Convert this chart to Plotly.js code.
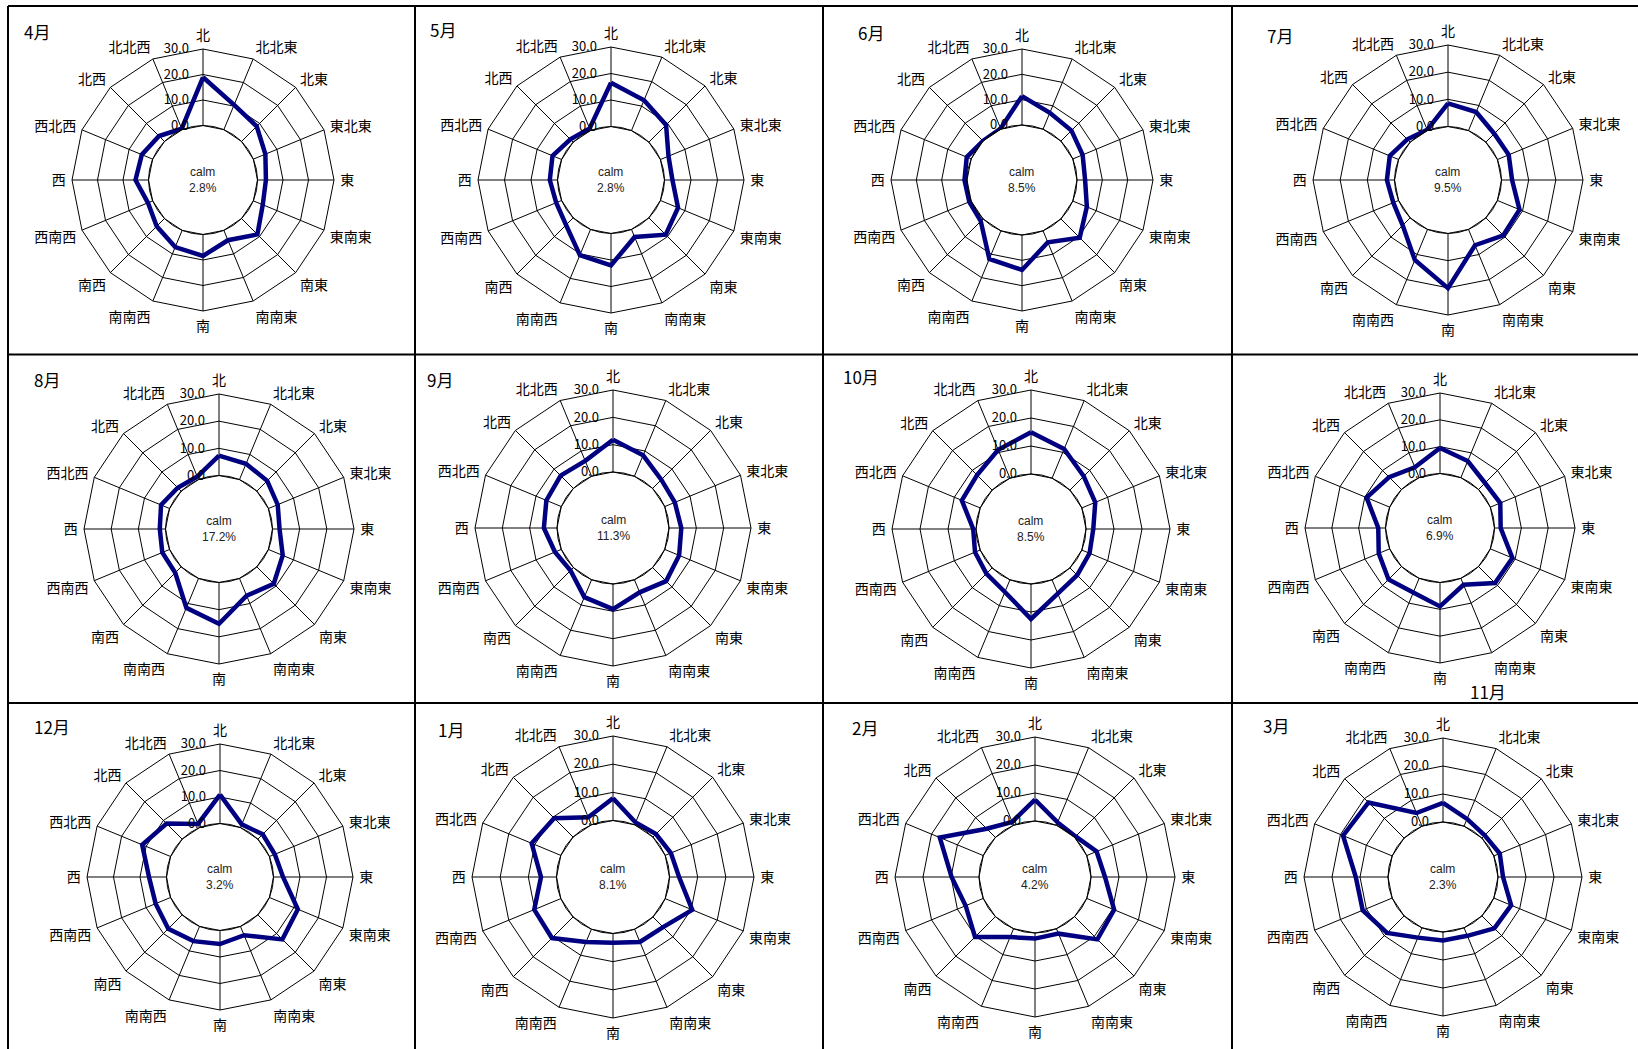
<!DOCTYPE html>
<html>
<head>
<meta charset="utf-8">
<script src="https://cdn.plot.ly/plotly-3.0.1.min.js"></script>
<style>html,body{margin:0;padding:0;background:#fff;}#chart{width:1638px;height:1049px;}</style>
</head>
<body>
<div id="chart"></div>
<script>
// ---- data ----
const directions = ['北','北北東','北東','東北東','東','東南東','南東','南南東','南','南南西','南西','西南西','西','西北西','北西','北北西'];
const months = ['4月','5月','6月','7月','8月','9月','10月','11月','12月','1月','2月','3月'];
const calm = [2.8, 2.8, 8.5, 9.5, 17.2, 11.3, 8.5, 6.9, 3.2, 8.1, 4.2, 2.3];
const radialTicks = [0, 10, 20, 30];

const apr = [18.9, 10.5, 8.4, 5.1, 3.3, 4.0, 8.8, 4.2, 8.4, 7.1, 4.3, 2.0, 5.1, 4.6, 3.0, 0.4];
const may = [16.5, 12.4, 9.2, 3.3, 3.0, 7.2, 9.0, 3.1, 12.0, 10.5, 3.8, 2.2, 2.9, 3.7, 1.5, 0.9];
const jun = [11.4, 7.0, 5.9, 4.2, 3.2, 6.0, 10.5, 4.9, 13.8, 12.0, 1.3, 0.8, 1.0, 1.9, 0.1, 0.3];
const jul = [8.5, 7.4, 4.4, 4.5, 3.9, 8.8, 9.1, 6.3, 20.1, 12.2, 3.9, 2.1, 2.8, 3.5, 1.5, 0.3];
const aug = [7.3, 6.3, 5.4, 3.7, 2.6, 5.7, 8.8, 6.9, 15.2, 11.7, 3.1, 2.9, 2.1, 3.4, 1.8, 1.2];
const sep = [11.8, 8.3, 4.5, 4.0, 4.5, 5.7, 7.0, 5.0, 9.2, 6.9, 1.5, 2.5, 4.8, 5.9, 6.6, 6.1];
const oct = [14.9, 11.3, 7.0, 5.2, 2.6, 3.0, 3.7, 5.3, 12.5, 4.7, 2.9, 2.0, 1.0, 7.1, 7.6, 11.0];
const nov = [9.5, 6.7, 3.4, 4.0, 2.3, 8.9, 8.7, 2.6, 8.9, 5.7, 6.8, 4.4, 2.7, 9.3, 6.5, 4.2];
const dec = [10.9, 1.3, 2.6, 2.2, 3.6, 11.6, 13.1, 3.6, 5.1, 6.0, 7.4, 6.1, 6.6, 11.6, 8.3, 1.5];
const jan = [7.9, 0.9, 1.5, 2.2, 3.4, 10.4, 5.1, 4.9, 3.3, 4.9, 10.6, 10.2, 5.5, 11.2, 9.5, 2.9];
const feb = [7.6, 1.1, 0.5, 3.8, 5.0, 10.6, 11.5, 1.9, 2.0, 3.2, 10.3, 6.8, 9.8, 16.8, 4.4, 1.3];
const mar = [6.8, 2.8, 1.4, 2.3, 1.8, 6.7, 6.3, 3.1, 3.0, 3.8, 8.6, 11.4, 11.5, 19.0, 18.0, 5.1];
const series = [apr, may, jun, jul, aug, sep, oct, nov, dec, jan, feb, mar];

// ---- layout geometry (pixels) ----
const W = 1638, H = 1049;
const panels = [
  {cx:203,  cy:180, R:131, r0:54.5, tx:37,   ty:31},
  {cx:611,  cy:180, R:133, r0:53.5, tx:443,  ty:30},
  {cx:1022, cy:180, R:131, r0:55,   tx:871,  ty:33},
  {cx:1448, cy:180, R:135, r0:53.5, tx:1280, ty:35},
  {cx:219,  cy:529, R:135, r0:53.5, tx:47,   ty:379},
  {cx:613,  cy:528, R:138, r0:56,   tx:440,  ty:379},
  {cx:1031, cy:529, R:139, r0:55,   tx:861,  ty:377},
  {cx:1440, cy:528, R:135, r0:54.5, tx:1488, ty:691},
  {cx:220,  cy:877, R:133, r0:53.5, tx:52,   ty:726},
  {cx:613,  cy:877, R:141, r0:56.5, tx:451,  ty:729},
  {cx:1035, cy:877, R:140, r0:56,   tx:865,  ty:727},
  {cx:1443, cy:877, R:139, r0:55,   tx:1276, ty:725}
];

const px = x => x / W;
const py = y => 1 - y / H;

const data = [];
const layout = {
  width: W, height: H,
  margin: {l:0, r:0, t:0, b:0},
  paper_bgcolor: '#fff',
  showlegend: false,
  annotations: [],
  shapes: []
};

series.forEach((vals, i) => {
  const p = panels[i];
  const key = i === 0 ? 'polar' : 'polar' + (i + 1);
  data.push({
    type: 'scatterpolar',
    subplot: key,
    mode: 'lines',
    r: vals.concat([vals[0]]),
    theta: directions.concat([directions[0]]),
    line: {color: '#000080', width: 4.5},
    hoverinfo: 'skip'
  });
  layout[key] = {
    domain: {x: [px(p.cx - p.R), px(p.cx + p.R)], y: [py(p.cy + p.R), py(p.cy - p.R)]},
    hole: p.r0 / p.R,
    gridshape: 'linear',
    bgcolor: '#fff',
    radialaxis: {
      range: [0, 30], tickvals: radialTicks, tickformat: '.1f',
      angle: 90, side: 'counterclockwise', tickangle: 90,
      showline: false, ticks: 'outside', ticklen: 9, tickcolor: 'rgba(0,0,0,0)',
      gridcolor: '#000', gridwidth: 1,
      tickfont: {family: 'Noto Sans CJK JP', size: 13, color: '#000'}
    },
    angularaxis: {
      type: 'category', categoryarray: directions,
      direction: 'clockwise', rotation: 90,
      ticks: 'outside', ticklen: 3, tickcolor: 'rgba(0,0,0,0)',
      showline: true, linecolor: '#000', linewidth: 1,
      gridcolor: '#000', gridwidth: 1,
      tickfont: {family: 'Noto Sans CJK JP', size: 14, color: '#000'}
    }
  };
  // calm circle
  layout.shapes.push({
    type: 'circle', xref: 'paper', yref: 'paper',
    xsizemode: 'pixel', ysizemode: 'pixel',
    xanchor: px(p.cx), yanchor: py(p.cy),
    x0: -p.r0, x1: p.r0, y0: -p.r0, y1: p.r0,
    line: {color: '#000', width: 1}, layer: 'above'
  });
  layout.annotations.push({
    xref: 'paper', yref: 'paper', x: px(p.cx), y: py(p.cy),
    text: 'calm<br>' + calm[i].toFixed(1) + '%', showarrow: false,
    font: {family: 'Liberation Sans, Arial', size: 12, color: '#222'},
    xanchor: 'center', yanchor: 'middle'
  });
  layout.annotations.push({
    xref: 'paper', yref: 'paper', x: px(p.tx), y: py(p.ty),
    text: months[i], showarrow: false,
    font: {family: 'Noto Sans CJK JP', size: 17, color: '#000'},
    xanchor: 'center', yanchor: 'middle'
  });
});

// cell borders
const vLines = [8, 415, 823, 1232];
const hLines = [6, 354.5, 703];
vLines.forEach(x => layout.shapes.push({type:'line', xref:'paper', yref:'paper',
  x0: px(x), x1: px(x), y0: py(6), y1: 0, line:{color:'#000', width:2}}));
hLines.forEach(y => layout.shapes.push({type:'line', xref:'paper', yref:'paper',
  x0: px(8), x1: 1, y0: py(y), y1: py(y), line:{color:'#000', width:2}}));

Plotly.newPlot('chart', data, layout, {staticPlot: true});
</script>
</body>
</html>
